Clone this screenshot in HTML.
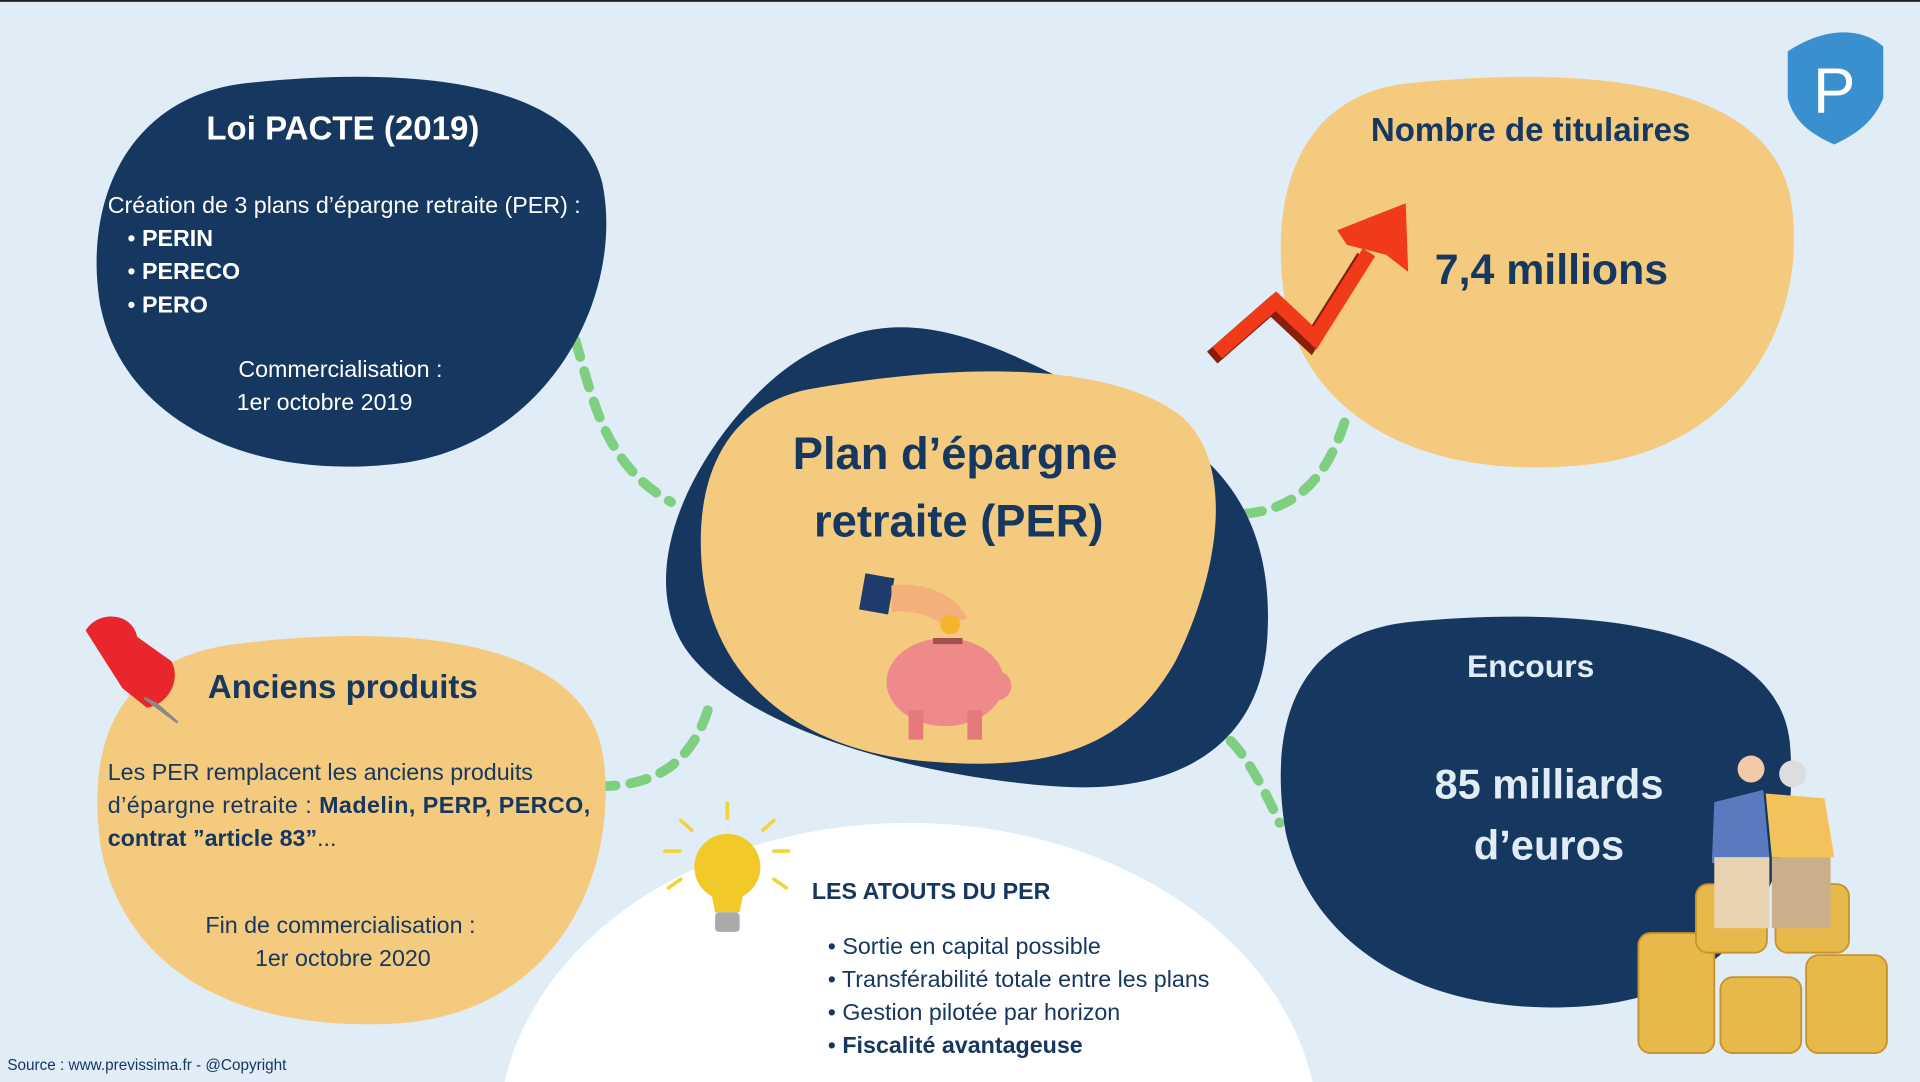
<!DOCTYPE html>
<html><head><meta charset="utf-8"><style>
html,body{margin:0;padding:0;width:1920px;height:1082px;overflow:hidden;background:#e0ecf6}
svg{display:block;overflow:hidden}
text{font-family:"Liberation Sans",sans-serif}
</style></head><body>
<svg width="1920" height="1082" viewBox="0 0 1568 883.6" preserveAspectRatio="none">
<rect width="1568" height="884" fill="#e0ecf6"/>
<rect x="0" y="0" width="1568" height="1.5" fill="#222"/>
<path d="M412,884 C440,760 580,672 742,672 C904,672 1044,760 1072,884 Z" fill="#fff"/>
<g fill="none" stroke="#7fcf80" stroke-width="8" stroke-dasharray="14 12" stroke-linecap="round">
<path d="M470,278 C485,330 495,380 548,410"/>
<path d="M1098,345 C1080,400 1050,420 1005,420"/>
<path d="M578,580 C565,620 540,640 495,642"/>
<path d="M1005,605 C1020,620 1035,650 1045,672"/>
</g>
<path d="M200,68 C320,55 470,60 492,150 C510,240 450,360 330,378 C200,395 100,340 82,250 C68,170 100,80 200,68 Z" fill="#163760"/>
<path d="M1150,68 C1280,55 1440,60 1462,160 C1480,260 1420,370 1290,380 C1160,392 1070,340 1050,250 C1035,160 1060,78 1150,68 Z" fill="#f4cb7e"/>
<path d="M200,525 C330,510 480,520 493,620 C505,720 450,830 320,836 C190,842 100,790 82,690 C70,600 100,535 200,525 Z" fill="#f4cb7e"/>
<path d="M1150,508 C1280,495 1455,505 1462,610 C1470,720 1420,815 1290,822 C1160,830 1070,770 1050,680 C1035,590 1060,518 1150,508 Z" fill="#163760"/>
<path d="M700,272 C780,250 860,310 940,345 C1010,380 1040,440 1035,520 C1030,610 960,650 860,642 C760,635 610,600 560,530 C520,470 560,380 620,320 C650,290 680,278 700,272 Z" fill="#163760"/>
<path d="M660,318 C760,300 900,290 965,340 C1010,380 995,470 960,540 C920,610 860,630 760,622 C660,615 580,560 573,460 C567,380 600,330 660,318 Z" fill="#f4cb7e"/>
<path d="M1460,42 C1490,22 1520,22 1538,38 L1538,80 C1530,100 1515,110 1498,118 C1480,110 1465,100 1460,80 Z" fill="#3a8fcf"/>
<text x="1498" y="92" font-size="52" fill="#fff" text-anchor="middle">P</text>
<text x="280" y="114" font-size="27" font-weight="bold" fill="#fff" text-anchor="middle">Loi PACTE (2019)</text>
<g font-size="19" fill="#fff">
<text x="88" y="174">Création de 3 plans d’épargne retraite (PER) :</text>
<text x="104" y="201">•  <tspan font-weight="bold">PERIN</tspan></text>
<text x="104" y="228">•  <tspan font-weight="bold">PERECO</tspan></text>
<text x="104" y="255">•  <tspan font-weight="bold">PERO</tspan></text>
<text x="278" y="308" text-anchor="middle">Commercialisation :</text>
<text x="265" y="335" text-anchor="middle">1er octobre 2019</text>
</g>
<text x="1250" y="115" font-size="27" font-weight="bold" fill="#163760" text-anchor="middle">Nombre de titulaires</text>
<text x="1267" y="232" font-size="35" font-weight="bold" fill="#163760" text-anchor="middle">7,4 millions</text>
<polyline points="994,288 1042,246 1074,276 1118,206" fill="none" stroke="#8a1d0c" stroke-width="13" stroke-linejoin="miter" transform="translate(-4,4)"/>
<polyline points="994,288 1042,246 1074,276 1118,206" fill="none" stroke="#f03a1a" stroke-width="12" stroke-linejoin="miter"/>
<polygon points="1148,166 1150,222 1132,208 1100,200 1092,188" fill="#f03a1a"/>
<text x="780" y="383" font-size="37" font-weight="bold" fill="#163760" text-anchor="middle">Plan d’épargne</text>
<text x="783" y="438" font-size="37" font-weight="bold" fill="#163760" text-anchor="middle">retraite (PER)</text>
<rect x="704" y="470" width="24" height="30" fill="#1f3b6b" transform="rotate(10 716 485)"/>
<path d="M728,478 C755,475 780,485 790,505 L770,510 C755,500 740,498 728,500 Z" fill="#f3b07a"/>
<circle cx="776" cy="510" r="8" fill="#f3b52d"/>
<ellipse cx="772" cy="557" rx="48" ry="36" fill="#ef8a8a"/>
<circle cx="814" cy="560" r="12" fill="#ef8a8a"/>
<rect x="742" y="580" width="12" height="24" fill="#e57a7a"/>
<rect x="790" y="580" width="12" height="24" fill="#e57a7a"/>
<rect x="762" y="521" width="24" height="5" fill="#a05050"/>
<path d="M70,515 C80,498 108,500 112,520 L140,540 C148,555 138,575 120,578 L100,562 Z" fill="#e8262b"/>
<path d="M118,570 L145,590 L128,575 Z" fill="#888" stroke="#888" stroke-width="2"/>
<text x="280" y="570" font-size="27" font-weight="bold" fill="#163760" text-anchor="middle">Anciens produits</text>
<g font-size="19" fill="#163760">
<text x="88" y="637">Les PER remplacent les anciens produits</text>
<text x="88" y="664" textLength="394">d’épargne  retraite  :  <tspan font-weight="bold">Madelin,  PERP,  PERCO,</tspan></text>
<text x="88" y="691"><tspan font-weight="bold">contrat ”article 83”</tspan>...</text>
<text x="278" y="762" text-anchor="middle">Fin de commercialisation :</text>
<text x="280" y="789" text-anchor="middle">1er octobre 2020</text>
</g>
<text x="1250" y="553" font-size="26" font-weight="bold" fill="#e0ecf6" text-anchor="middle">Encours</text>
<text x="1265" y="652" font-size="34" font-weight="bold" fill="#e0ecf6" text-anchor="middle">85 milliards</text>
<text x="1265" y="702" font-size="34" font-weight="bold" fill="#e0ecf6" text-anchor="middle">d’euros</text>
<g fill="#e7b84a" stroke="#c9922a" stroke-width="1.5">
<rect x="1338" y="762" width="62" height="98" rx="10"/>
<rect x="1405" y="798" width="66" height="62" rx="10"/>
<rect x="1475" y="780" width="66" height="80" rx="10"/>
<rect x="1385" y="722" width="58" height="56" rx="10"/>
<rect x="1450" y="722" width="60" height="56" rx="10"/>
</g>
<circle cx="1430" cy="628" r="11" fill="#f2c9a8"/>
<circle cx="1464" cy="632" r="11" fill="#ddd"/>
<path d="M1400,655 L1440,645 L1445,700 L1398,705 Z" fill="#5a7abf"/>
<path d="M1442,648 L1490,652 L1498,700 L1447,700 Z" fill="#f2c35a"/>
<rect x="1400" y="700" width="45" height="58" fill="#e8d3b0"/>
<rect x="1447" y="700" width="48" height="58" fill="#c9b08a"/>
<g stroke="#f1d43b" stroke-width="3" stroke-linecap="round">
<line x1="594" y1="656" x2="594" y2="668"/><line x1="556" y1="670" x2="565" y2="678"/><line x1="632" y1="670" x2="623" y2="678"/>
<line x1="543" y1="695" x2="555" y2="695"/><line x1="632" y1="695" x2="644" y2="695"/>
<line x1="546" y1="725" x2="556" y2="718"/><line x1="642" y1="725" x2="632" y2="718"/>
</g>
<circle cx="594" cy="708" r="27" fill="#f1c928"/>
<path d="M580,725 L608,725 L604,745 L584,745 Z" fill="#f1c928"/>
<rect x="584" y="745" width="20" height="16" rx="3" fill="#aaa"/>
<text x="663" y="734" font-size="19" font-weight="bold" fill="#163760">LES ATOUTS DU PER</text>
<g font-size="19" fill="#163760">
<text x="676" y="779">•  Sortie en capital possible</text>
<text x="676" y="806">•  Transférabilité totale entre les plans</text>
<text x="676" y="833">•  Gestion pilotée par horizon</text>
<text x="676" y="860">•  <tspan font-weight="bold">Fiscalité avantageuse</tspan></text>
</g>
<text x="6" y="874" font-size="12.5" fill="#163760">Source : www.previssima.fr - @Copyright</text>
</svg>
</body></html>
